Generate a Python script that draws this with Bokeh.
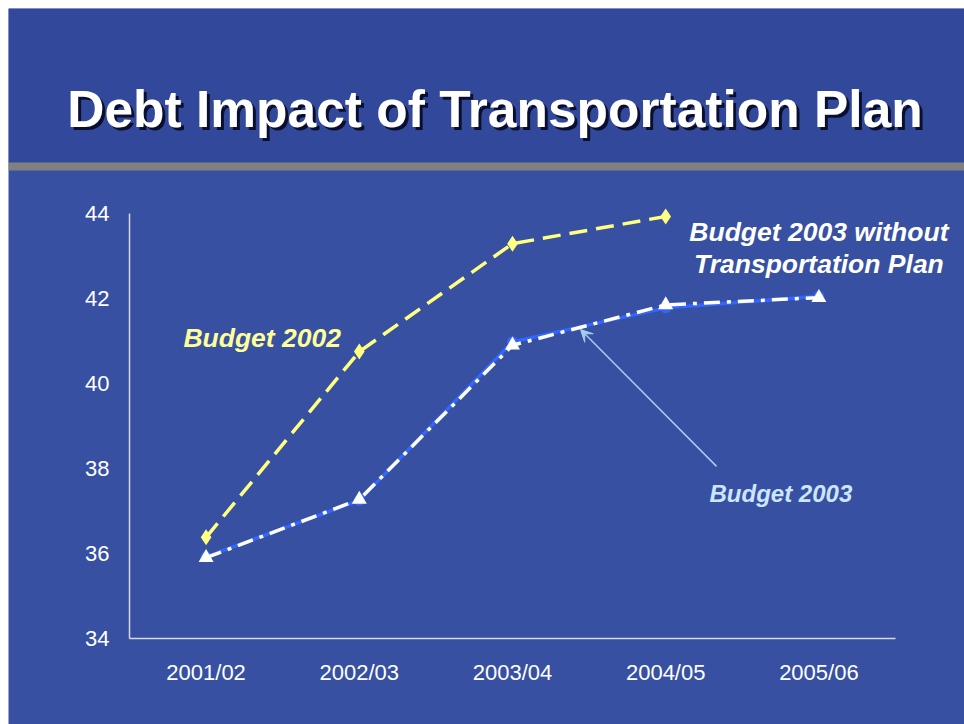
from bokeh.plotting import figure
from bokeh.models import Label, Arrow, VeeHead, Range1d, FixedTicker, BoxAnnotation
from bokeh.embed import file_html
from bokeh.resources import INLINE

# ---- data ----
years = ["2001/02", "2002/03", "2003/04", "2004/05", "2005/06"]
budget_2002 = [36.38, 40.75, 43.29, 43.93]
budget_2003 = [35.92, 37.25, 40.98, 41.78, 42.05]
budget_2003_wo = [35.90, 37.27, 40.90, 41.85, 42.02]
y_ticks = [34, 36, 38, 40, 42, 44]

title_text = "Debt Impact of Transportation Plan"

BG = "#3750A1"
FONT = "Liberation Sans"

# category positions (centre of each category slot)
xpos = [i + 0.5 for i in range(len(years))]
n_cat = len(years)

W, H = 964, 724
p = figure(width=W, height=H, output_backend="svg", toolbar_location=None,
           x_range=Range1d(-0.7898, 5.4504),
           y_range=Range1d(31.976, 48.8235),
           min_border=0, min_border_left=8, min_border_right=0,
           min_border_top=8, min_border_bottom=0)
p.background_fill_color = BG
p.border_fill_color = "#FFFFFF"
p.outline_line_color = None
p.grid.visible = False

# slightly darker header zone
p.add_layout(BoxAnnotation(bottom=45.2, fill_color="#32489A", fill_alpha=1.0, line_color=None,
                           level="underlay"))
# grey separator bar
p.add_layout(BoxAnnotation(bottom=45.012, top=45.2, fill_color="#808080", fill_alpha=1.0,
                           line_color=None, level="underlay"))

xa, ya = p.xaxis[0], p.yaxis[0]
xa.fixed_location = 34
ya.fixed_location = 0
xa.bounds = (0, n_cat)
ya.bounds = (34, 44)
xa.ticker = FixedTicker(ticks=xpos)
xa.major_label_overrides = {x: y for x, y in zip(xpos, years)}
ya.ticker = FixedTicker(ticks=y_ticks)
for ax in (xa, ya):
    ax.axis_line_color = "#D8D8E8"
    ax.axis_line_width = 1.5
    ax.major_tick_line_color = None
    ax.minor_tick_line_color = None
    ax.major_tick_in = 0
    ax.major_tick_out = 0
    ax.major_label_text_color = "#FFFFFF"
    ax.major_label_text_font = FONT
    ax.major_label_text_font_size = "22px"
ya.major_label_standoff = 20
xa.major_label_standoff = 22

# title with shadow
tl = dict(text_align="center", text_baseline="alphabetic", text_font=FONT,
          text_font_style="bold", text_font_size="51.5px")
p.add_layout(Label(x=2.3858, y=46.46, x_offset=3, y_offset=-3, text=title_text,
                   text_color="#0A0F30", **tl))
p.add_layout(Label(x=2.3858, y=46.46, text=title_text, text_color="#FFFFFF", **tl))

# Budget 2003 (blue solid)
p.line(xpos, budget_2003, line_color="#3366FF", line_width=3.5)
p.scatter(xpos, budget_2003, marker="circle", size=11, fill_color="#3366FF", line_color=None)

# Budget 2003 without Transportation Plan (white dash-dot)
p.line(xpos, budget_2003_wo, line_color="#FFFFFF", line_width=3.5, line_dash="16 7 4 7")
p.scatter(xpos, budget_2003_wo, marker="triangle", size=15, fill_color="#FFFFFF", line_color=None)

# Budget 2002 (yellow dashed)
p.line(xpos[:4], budget_2002, line_color="#FFFF80", line_width=3.5, line_dash="18 9")
p.scatter(xpos[:4], budget_2002, marker="diamond", size=16, fill_color="#FFFF80", line_color=None)

# series labels
lab = dict(text_font=FONT, text_font_style="bold italic", text_baseline="alphabetic")
p.add_layout(Label(x=0.352, y=41.07, text="Budget 2002", text_color="#FFFF99",
                   text_font_size="26.5px", **lab))
p.add_layout(Label(x=4.5, y=43.57, text="Budget 2003 without", text_color="#FFFFFF",
                   text_align="center", text_font_size="26.5px", **lab))
p.add_layout(Label(x=4.5, y=42.82, text="Transportation Plan", text_color="#FFFFFF",
                   text_align="center", text_font_size="26.5px", **lab))
p.add_layout(Label(x=3.786, y=37.41, text="Budget 2003", text_color="#CCE6FF",
                   text_font_size="24px", **lab))

p.add_layout(Arrow(x_start=3.832, y_start=38.05, x_end=2.944, y_end=41.27,
                   line_color="#A8CCF0", line_width=1.5,
                   end=VeeHead(size=12, fill_color="#A8CCF0", line_color="#A8CCF0")))

open("out.html", "w").write(file_html(p, INLINE))
